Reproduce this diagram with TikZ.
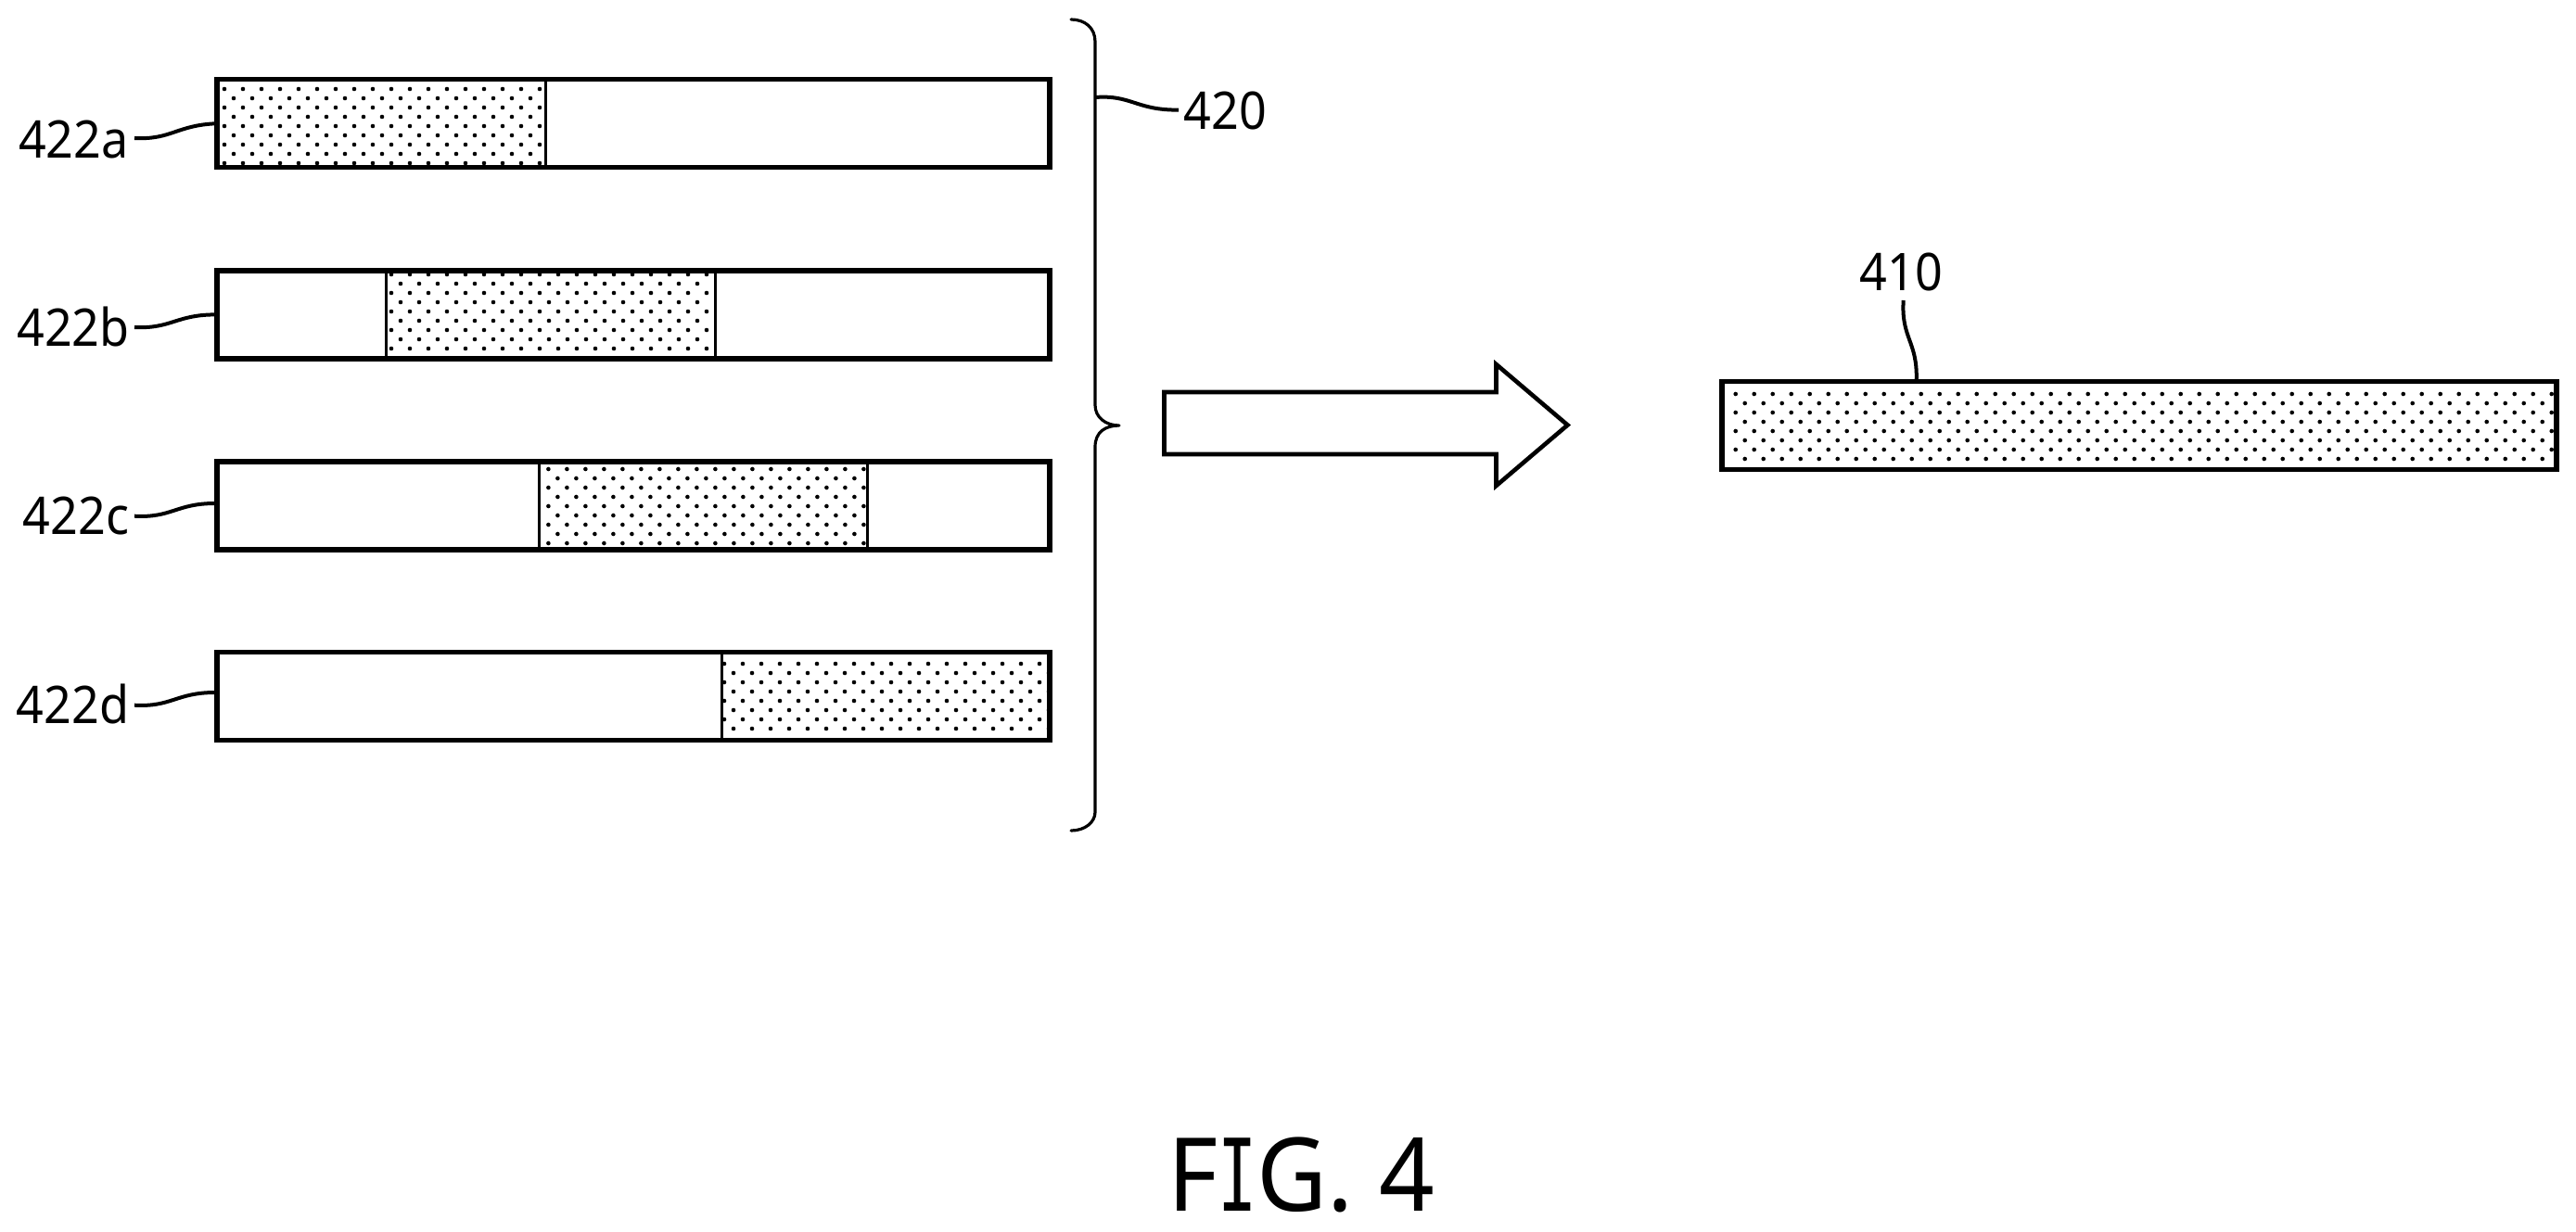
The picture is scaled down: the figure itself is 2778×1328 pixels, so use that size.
\documentclass[tikz,border=0pt]{standalone}
\usepackage{fontspec}
\setmainfont{Noto Sans}
\newfontfamily\labfont[FakeStretch=0.93]{Noto Sans}
\newfontfamily\figmain[FakeStretch=0.95]{Noto Sans}
\newfontfamily\figbar[FakeStretch=0.65]{DejaVu Sans Mono}
\newcommand{\hatchdots}[7]{% x0 x1 y0 y1 firstx firsty rows
  \begin{scope}
    \clip (#1,#3) rectangle (#2,#4);
    \foreach \ii in {1,...,#7}{
      \pgfmathsetmacro\rowdx{mod(\ii-1,2)*10}
      \pgfmathsetmacro\rowy{#6+10*(\ii-1)}
      \foreach \jj in {0,...,46}{
        \pgfmathsetmacro\colx{#5+\rowdx+20*\jj}
        \ifdim\colx pt<#2pt
          \fill (\colx,\rowy) circle[radius=1.15pt];
        \fi
      }
    }
  \end{scope}}
\tikzset{
  barbox/.style={draw,line width=2.6pt,minimum height=47.5pt,inner sep=0pt,outer sep=0pt},
  divider/.style={line width=1.5pt},
  leader/.style={line width=2pt},
  reflabel/.style={font=\labfont\fontsize{28}{30}\selectfont,anchor=base,inner sep=0pt,outer sep=0pt},
  figlabel/.style={font=\figmain\fontsize{55}{60}\selectfont,anchor=base,inner sep=0pt},
  bracestroke/.style={line width=1.6pt,line cap=round,line join=round},
  arrowstroke/.style={line width=2.3pt,line join=miter},
}
\begin{document}
\begin{tikzpicture}[x=0.5pt,y=-0.5pt]
\useasboundingbox (0,0) rectangle (2778,1328);
% hatching
\hatchdots{234}{588}{85.7}{180.8}{242}{96}{9}
\hatchdots{416}{771}{292}{386.7}{422}{296}{9}
\hatchdots{581}{935}{498}{593}{591.4}{506}{9}
\hatchdots{778}{1132}{704.2}{798}{781}{716}{8}
\hatchdots{1857}{2757}{411.7}{506}{1871.7}{425}{8}
% bars
\node[barbox,minimum width=449pt] (bara) at (683,133.2) {};
\node[barbox,minimum width=449pt] (barb) at (683,339.4) {};
\node[barbox,minimum width=449pt] (barc) at (683,545.5) {};
\node[barbox,minimum width=449pt] (bard) at (683,751.1) {};
\node[barbox,minimum width=450pt] (target) at (2307,458.8) {};
% dividers
\draw[divider] (588,85.7) -- (588,180.8);
\draw[divider] (416,292) -- (416,386.7);
\draw[divider] (771,292) -- (771,386.7);
\draw[divider] (581,498) -- (581,593);
\draw[divider] (935,498) -- (935,593);
\draw[divider] (778,704.2) -- (778,798);
% labels
\node[reflabel] (la) at (79.5,170) {422a};
\node[reflabel] (lb) at (79,373) {422b};
\node[reflabel] (lc) at (82,576) {422c};
\node[reflabel] (ld) at (78.5,780) {422d};
\node[reflabel] (lgroup) at (1321.5,139) {420};
\node[reflabel] (ltarget) at (2050.5,313) {410};
\node[figlabel] (fig) at (1403,1306) {F{\figbar\fontsize{54}{60}\selectfont I}G. 4};
% leader free ends
\coordinate (sa) at (145,149);
\coordinate (sb) at (145,353);
\coordinate (sc) at (145,556.7);
\coordinate (sd) at (145,760.7);
\coordinate (bracept) at (1181,105);
\coordinate (sg) at (1271,118.6);
\coordinate (st) at (2052.7,324);
\coordinate (et) at (2066.7,410);
\draw[leader] (sa) .. controls (185,151) and (190,135) .. (bara.west);
\draw[leader] (sb) .. controls (185,355) and (190,339) .. (barb.west);
\draw[leader] (sc) .. controls (185,559) and (190,543) .. (232,543);
\draw[leader] (sd) .. controls (185,763) and (190,747) .. (232,747);
\draw[leader] (bracept) .. controls (1220,102) and (1225,119) .. (sg);
\draw[leader] (st) .. controls (2050,365) and (2068,368) .. (et);
% brace
\draw[bracestroke] (1155,21) .. controls (1170,21) and (1181,30) .. (1181,45)
  -- (1181,437) .. controls (1181,450) and (1192,459) .. (1207,459)
  .. controls (1192,459) and (1181,466) .. (1181,482)
  -- (1181,876) .. controls (1181,887) and (1170,896) .. (1155,896);
% arrow
\draw[arrowstroke] (1255.5,423) -- (1613.5,423) -- (1613.5,393) -- (1690.5,458.5)
  -- (1613.5,524) -- (1613.5,490) -- (1255.5,490) -- cycle;
\end{tikzpicture}
\end{document}
